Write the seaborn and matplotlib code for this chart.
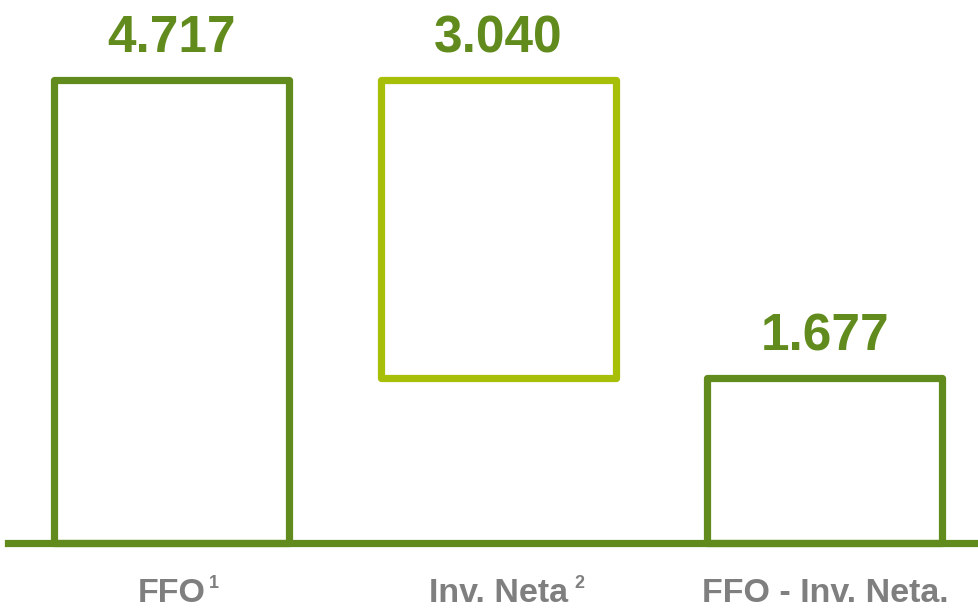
import matplotlib
matplotlib.use('Agg')
import matplotlib.pyplot as plt
import seaborn as sns

# chart values
categories = ['FFO', 'Inv. Neta', 'FFO - Inv. Neta.']
superscripts = ['1', '2', '']
values = [4717, 3040, 1677]
bases = [0, 1677, 0]
value_labels = ['4.717', '3.040', '1.677']

dark_green = '#618B1D'
light_green = '#A8BF0A'
bar_colors = [dark_green, light_green, dark_green]
grey = '#7F7F7F'

sns.set_style('white')
plt.rcParams['font.family'] = ['Liberation Sans', 'DejaVu Sans']

fig = plt.figure(figsize=(9.79, 6.11), dpi=100)
ax = fig.add_axes([8 / 979, 68 / 611, 971 / 979, 543 / 611])

# one barplot call per bar so the middle one can float on its base
for cat, val, base, col in zip(categories, values, bases, bar_colors):
    sns.barplot(x=[cat], y=[val], order=categories, bottom=base, color=col,
                fill=False, linewidth=5.2, width=0.72, errorbar=None, ax=ax)

for p in ax.patches:
    p.set_joinstyle('round')
    p.set_clip_on(False)

# value labels on top of each bar (all in the dark green)
for i, (val, base, lab) in enumerate(zip(values, bases, value_labels)):
    ax.annotate(lab, (i, base + val), xytext=(0, 20), textcoords='offset points',
                ha='center', va='baseline', fontsize=37, fontweight='bold', color=dark_green)

# footnote superscripts next to category names
sup_offsets = [30, 58, 0]
for i, (sup, dx) in enumerate(zip(superscripts, sup_offsets)):
    if sup:
        ax.annotate(sup, (i, 0), xytext=(dx, -23), textcoords='offset points',
                    ha='center', va='top', fontsize=13, fontweight='bold', color=grey)

ax.set_xlim(-0.502, 2.472)
ax.set_ylim(0, 5532)
ax.set_yticks([])
ax.set_xlabel('')
ax.set_ylabel('')
ax.tick_params(axis='x', length=0, pad=25, labelsize=24.5, labelcolor=grey)
for t in ax.get_xticklabels():
    t.set_fontweight('bold')

sns.despine(ax=ax, left=True, top=True, right=True)
ax.spines['bottom'].set_color(dark_green)
ax.spines['bottom'].set_linewidth(5.2)

plt.savefig('out.png', dpi=100)
